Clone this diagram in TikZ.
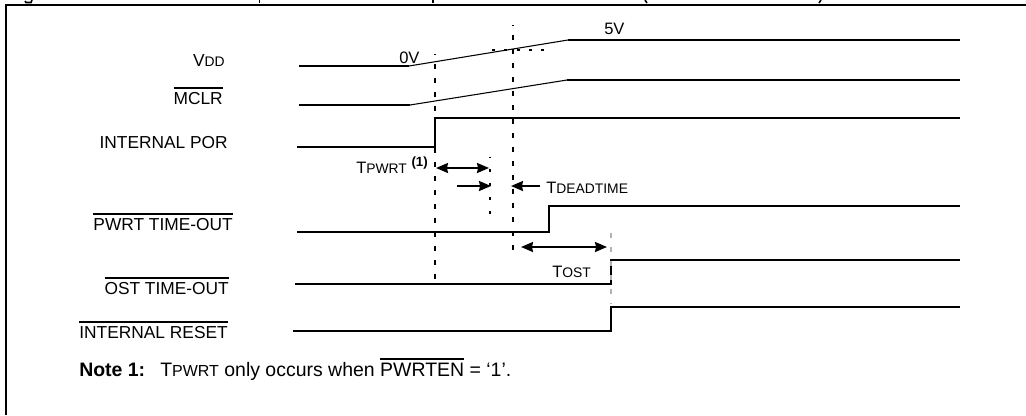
\documentclass[tikz,border=0pt]{standalone}
\usepackage{fontspec}
\setmainfont{Liberation Sans}
\usetikzlibrary{arrows.meta}
\newcommand\smc[1]{{\fontsize{10.4}{11}\selectfont #1}}
\newcommand\smcb[1]{{\fontsize{12}{12}\selectfont #1}}
\newcommand\barred[1]{\leavevmode\vbox{\hrule height 1.1pt \kern 2.3pt \hbox{#1}}}
\tikzset{
  wave/.style={line width=1.5pt,line join=miter},
  ramp/.style={line width=0.8pt},
  frameline/.style={line width=1.5pt},
  guide/.style={line width=1.5pt,dash pattern=on 3.75pt off 6.75pt,dash phase=2.8pt},
  guide thin/.style={line width=1.3pt,dash pattern=on 2.6pt off 7.9pt,dash phase=1.6pt},
  guide flat/.style={line width=1.3pt,dash pattern=on 2.4pt off 6.8pt},
  guide grey/.style={line width=1.5pt,color=black!30,dash pattern=on 3.75pt off 6.75pt},
  span/.style={line width=1.5pt,{Stealth[length=9pt,width=7.5pt,inset=0.8pt]}-{Stealth[length=9pt,width=7.5pt,inset=0.8pt]}},
  pointer/.style={line width=1.5pt,-{Stealth[length=9pt,width=7.5pt,inset=0.8pt]}},
  lab/.style={inner sep=0pt,anchor=base east,font=\fontsize{13}{14}\selectfont},
  tag/.style={inner sep=0pt,anchor=base west,font=\fontsize{12.4}{14}\selectfont},
  note/.style={inner sep=0pt,anchor=base west,font=\fontsize{14.6}{16}\selectfont},
  frag/.style={line width=1.2pt},
}
\begin{document}
\begin{tikzpicture}[x=0.75pt,y=-0.75pt]
\useasboundingbox (0,0) rectangle (1026,415);
\fill[white] (0,0) rectangle (1026,415);
% frame
\coordinate (fb) at (5.5,415); \coordinate (ftl) at (5.5,5); \coordinate (fr) at (1026,5);
\draw[frameline] (fb) -- (ftl) -- (fr);
% fragments of the cropped heading
\draw[frag] (25,1) -- (26,2.5) -- (31,2.5) -- (32,0);
\draw[frag] (259.5,0) -- (259.5,3);
\draw[frag] (433,0) -- (433,3);
\draw[frag] (645,0) -- (647,3);
\draw[frag] (821,0) -- (819,3);
% guides
\coordinate (ga1) at (435,54); \coordinate (ga2) at (435,285);
\coordinate (gb1) at (513,25); \coordinate (gb2) at (513,259);
\coordinate (gc1) at (490,157); \coordinate (gc2) at (490,215);
\coordinate (gd1) at (492,50); \coordinate (gd2) at (544,50);
\coordinate (ge1) at (611,233); \coordinate (ge2) at (611,304);
\draw[guide] (ga1) -- (ga2);
\draw[guide] (gb1) -- (gb2);
\draw[guide thin] (gc1) -- (gc2);
\draw[guide flat] (gd1) -- (gd2);
% waveforms
\coordinate (v0) at (299,66); \coordinate (v1) at (409,66); \coordinate (v2) at (568,40); \coordinate (v3) at (960,40);
\draw[wave] (v0) -- (v1); \draw[ramp] (v1) -- (v2); \draw[wave] (v2) -- (v3);
\coordinate (m0) at (299,105); \coordinate (m1) at (410,105); \coordinate (m2) at (567,80); \coordinate (m3) at (960,80);
\draw[wave] (m0) -- (m1); \draw[ramp] (m1) -- (m2); \draw[wave] (m2) -- (m3);
\coordinate (p0) at (297,147); \coordinate (p1) at (435,147); \coordinate (p2) at (435,118); \coordinate (p3) at (960,118);
\draw[wave] (p0) -- (p1) -- (p2) -- (p3);
\coordinate (t0) at (297,232); \coordinate (t1) at (549,232); \coordinate (t2) at (549,206); \coordinate (t3) at (960,206);
\draw[wave] (t0) -- (t1) -- (t2) -- (t3);
\coordinate (o0) at (295,284); \coordinate (o1) at (611,284); \coordinate (o2) at (611,260); \coordinate (o3) at (960,260);
\draw[wave] (o0) -- (o1) -- (o2) -- (o3);
\coordinate (r0) at (293,331); \coordinate (r1) at (611,331); \coordinate (r2) at (611,307); \coordinate (r3) at (960,307);
\draw[wave] (r0) -- (r1) -- (r2) -- (r3);
\draw[guide grey] (ge1) -- (ge2);
% timing arrows
\coordinate (a1) at (436,168); \coordinate (a2) at (489,168);
\draw[span] (a1) -- (a2);
\coordinate (a3) at (457,186); \coordinate (a4) at (491,186);
\draw[pointer] (a3) -- (a4);
\coordinate (a5) at (540,186); \coordinate (a6) at (511,186);
\draw[pointer] (a5) -- (a6);
\coordinate (a7) at (521,247); \coordinate (a8) at (607,247);
\draw[span] (a7) -- (a8);
% signal labels
\node[lab] (lvdd) at (225,66) {V\smc{DD}};
\node[lab] (lmclr) at (223,104) {\barred{MCLR}};
\node[lab] (lpor) at (228,148) {INTERNAL POR};
\node[lab] (lpwrt) at (233,230) {\barred{PWRT TIME-OUT}};
\node[lab] (lost) at (229,294) {\barred{OST TIME-OUT}};
\node[lab] (lrst) at (228,338) {\barred{INTERNAL RESET}};
% value labels
\node[tag] (l0v) at (399,63) {0V};
\node[tag] (l5v) at (604,34) {5V};
\node[tag] (ltp) at (356,173) {T\smc{PWRT} \textbf{\fontsize{10}{11}\selectfont\raisebox{5pt}{(1)}}};
\node[tag] (ltd) at (546,193) {T\smc{DEADTIME}};
\node[tag] (lto) at (552,277) {T\smc{OST}};
% note
\node[note] (nt) at (79,376) {\textbf{Note 1:}};
\node[note] (ntxt) at (160,376) {T\smcb{PWRT} only occurs when \barred{PWRTEN} = ‘1’.};
\end{tikzpicture}
\end{document}
